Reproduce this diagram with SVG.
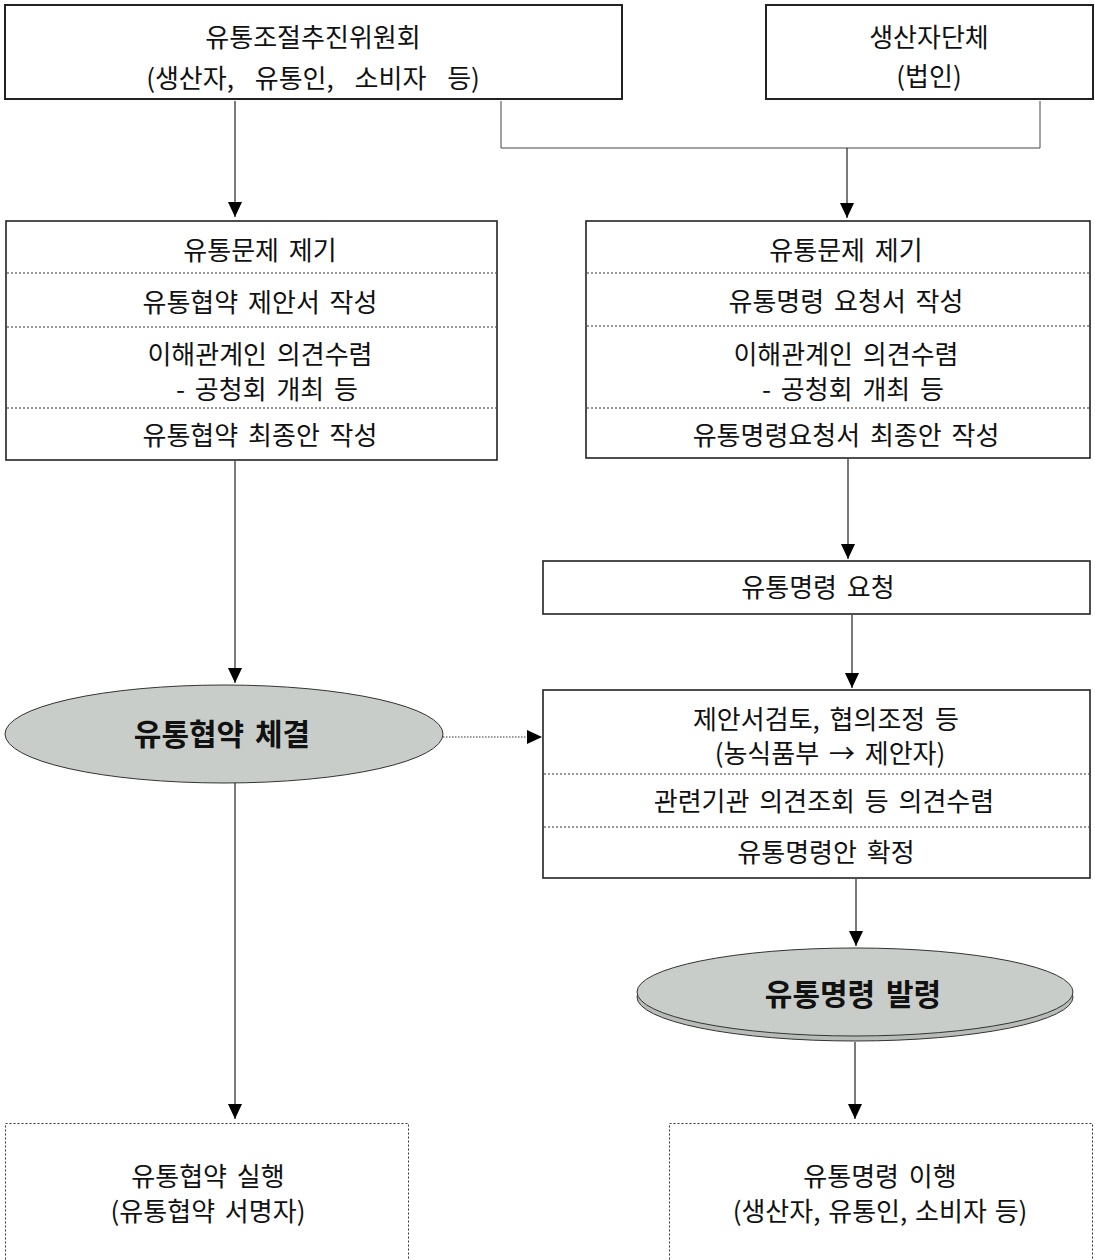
<svg xmlns="http://www.w3.org/2000/svg" width="1095" height="1260" viewBox="0 0 1095 1260">
  <style>
    .t { font-family: "Noto Sans CJK KR", "Noto Sans", sans-serif; font-size: 26px; fill: #111; text-anchor: middle; word-spacing: 4px; }
    .b { font-family: "Noto Sans CJK KR", "Noto Sans", sans-serif; font-size: 30px; font-weight: 700; fill: #111; text-anchor: middle; word-spacing: 4px; }
    .box { fill: #fff; stroke: #222; stroke-width: 1.6; }
    .boxthick { fill: #fff; stroke: #222; stroke-width: 2; }
    .sep { stroke: #333; stroke-width: 1; stroke-dasharray: 2 2; fill: none; }
    .dbox { fill: #fff; stroke: #333; stroke-width: 1; stroke-dasharray: 2 2; }
    .oval { fill: #c9cdc9; stroke: #333; stroke-width: 1; }
    .oval2 { fill: #b8bcb8; stroke: #333; stroke-width: 1; }
    .ln { stroke: #222; stroke-width: 1.2; fill: none; }
    .lg { stroke: #444; stroke-width: 1; fill: none; }
    .ld { stroke: #333; stroke-width: 1; stroke-dasharray: 1.5 1.5; fill: none; }
  </style>
  <defs>
    <marker id="arrow" markerUnits="userSpaceOnUse" markerWidth="16" markerHeight="14" refX="15" refY="7" orient="auto">
      <path d="M0,0 L15,7 L0,14 z" fill="#000"/>
    </marker>
  </defs>

  <!-- connectors -->
  <g id="connectors">
    <line class="ln" x1="235" y1="101" x2="235" y2="217" marker-end="url(#arrow)"/>
    <polyline class="lg" points="501,101 501,148 1040,148 1040,101"/>
    <line class="ln" x1="847" y1="148" x2="847" y2="218" marker-end="url(#arrow)"/>
    <line class="ln" x1="235" y1="461" x2="235" y2="683" marker-end="url(#arrow)"/>
    <line class="ln" x1="848" y1="459" x2="848" y2="559" marker-end="url(#arrow)"/>
    <line class="ln" x1="852" y1="615" x2="852" y2="688" marker-end="url(#arrow)"/>
    <line class="ld" x1="443" y1="737" x2="542" y2="737" marker-end="url(#arrow)"/>
    <line class="ln" x1="235" y1="783" x2="235" y2="1119" marker-end="url(#arrow)"/>
    <line class="ln" x1="856" y1="879" x2="856" y2="946" marker-end="url(#arrow)"/>
    <line class="ln" x1="855" y1="1042" x2="855" y2="1119" marker-end="url(#arrow)"/>
  </g>

  <!-- committee -->
  <g id="committee">
    <rect class="boxthick" x="5" y="5" width="617" height="94"/>
    <text class="t" x="313" y="47">유통조절추진위원회</text>
    <text class="t" x="313" y="88" style="word-spacing:15px">(생산자, 유통인, 소비자 등)</text>
  </g>

  <!-- producer group -->
  <g id="producers">
    <rect class="boxthick" x="766" y="5" width="327" height="94"/>
    <text class="t" x="929" y="47">생산자단체</text>
    <text class="t" x="929" y="86">(법인)</text>
  </g>

  <!-- agreement preparation steps -->
  <g id="agreement-steps">
    <rect class="box" x="6" y="221" width="491" height="239"/>
    <line class="sep" x1="7" y1="273" x2="496" y2="273"/>
    <line class="sep" x1="7" y1="327" x2="496" y2="327"/>
    <line class="sep" x1="7" y1="408" x2="496" y2="408"/>
    <text class="t" x="260" y="260">유통문제 제기</text>
    <text class="t" x="260" y="312">유통협약 제안서 작성</text>
    <text class="t" x="260" y="364">이해관계인 의견수렴</text>
    <text class="t" x="267" y="399">- 공청회 개최 등</text>
    <text class="t" x="260" y="445">유통협약 최종안 작성</text>
  </g>

  <!-- order request preparation steps -->
  <g id="order-steps">
    <rect class="box" x="586" y="221" width="504" height="237"/>
    <line class="sep" x1="587" y1="273" x2="1089" y2="273"/>
    <line class="sep" x1="587" y1="326" x2="1089" y2="326"/>
    <line class="sep" x1="587" y1="408" x2="1089" y2="408"/>
    <text class="t" x="846" y="260">유통문제 제기</text>
    <text class="t" x="846" y="311">유통명령 요청서 작성</text>
    <text class="t" x="846" y="364">이해관계인 의견수렴</text>
    <text class="t" x="853" y="399">- 공청회 개최 등</text>
    <text class="t" x="846" y="445">유통명령요청서 최종안 작성</text>
  </g>

  <!-- order request -->
  <g id="order-request">
    <rect class="box" x="543" y="561" width="547" height="53"/>
    <text class="t" x="818" y="597">유통명령 요청</text>
  </g>

  <!-- review -->
  <g id="review">
    <rect class="box" x="543" y="690" width="547" height="188"/>
    <line class="sep" x1="544" y1="774" x2="1089" y2="774"/>
    <line class="sep" x1="544" y1="827" x2="1089" y2="827"/>
    <text class="t" x="826" y="729">제안서검토, 협의조정 등</text>
    <text class="t" x="830" y="763">(농식품부 → 제안자)</text>
    <text class="t" x="824" y="811">관련기관 의견조회 등 의견수렴</text>
    <text class="t" x="826" y="862">유통명령안 확정</text>
  </g>

  <!-- agreement concluded -->
  <g id="agreement">
    <ellipse class="oval" cx="224" cy="734" rx="219" ry="49"/>
    <text class="b" x="222" y="745">유통협약 체결</text>
  </g>

  <!-- order issued -->
  <g id="order-issued">
    <ellipse class="oval2" cx="855" cy="997" rx="218" ry="44"/>
    <ellipse class="oval" cx="855" cy="992" rx="218" ry="44"/>
    <text class="b" x="853" y="1005">유통명령 발령</text>
  </g>

  <!-- agreement execution -->
  <g id="agreement-exec">
    <rect class="dbox" x="5.5" y="1123.5" width="403" height="145"/>
    <text class="t" x="208" y="1186">유통협약 실행</text>
    <text class="t" x="208" y="1221">(유통협약 서명자)</text>
  </g>

  <!-- order compliance -->
  <g id="order-exec">
    <rect class="dbox" x="669.5" y="1123.5" width="423" height="145"/>
    <text class="t" x="880" y="1186">유통명령 이행</text>
    <text class="t" x="880" y="1221" style="word-spacing:2px">(생산자, 유통인, 소비자 등)</text>
  </g>
</svg>
